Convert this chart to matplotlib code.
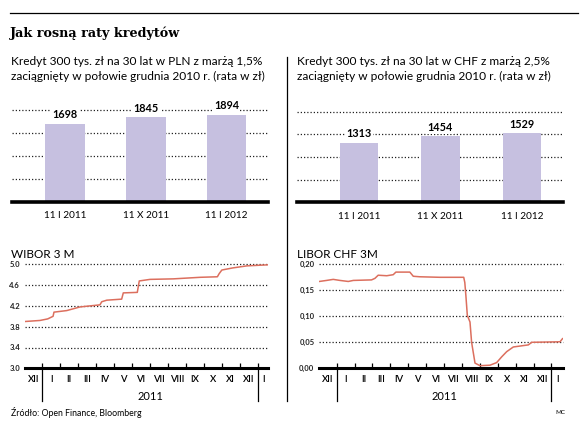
import matplotlib
matplotlib.use("Agg")
import matplotlib.pyplot as plt
import matplotlib.transforms as mtrans
import numpy as np

# --- data -------------------------------------------------------------------
title = "Jak rosną raty kredytów"
pln_title = ("Kredyt 300 tys. zł na 30 lat w PLN z marżą 1,5%\n"
             "zaciągnięty w połowie grudnia 2010 r. (rata w zł)")
chf_title = ("Kredyt 300 tys. zł na 30 lat w CHF z marżą 2,5%\n"
             "zaciągnięty w połowie grudnia 2010 r. (rata w zł)")
bar_labels = ["11 I 2011", "11 X 2011", "11 I 2012"]
pln_rates = [1698, 1845, 1894]
chf_rates = [1313, 1454, 1529]

month_names = ["XII", "I", "II", "III", "IV", "V", "VI", "VII", "VIII",
               "IX", "X", "XI", "XII", "I"]

# time in months, 0 = start of Dec 2010, 1 = start of Jan 2011 ...
wibor_t = [0.04, 0.87, 1.30, 1.60, 1.65, 2.36, 3.10, 4.21, 4.31, 4.59,
           5.42, 5.51, 6.29, 6.40, 7.00, 8.30, 9.80, 10.75, 10.85, 11.00,
           11.60, 12.40, 13.57]
wibor_v = [3.90, 3.92, 3.95, 4.00, 4.08, 4.11, 4.18, 4.22, 4.28, 4.31,
           4.33, 4.45, 4.46, 4.68, 4.71, 4.72, 4.75, 4.76, 4.82, 4.89,
           4.93, 4.97, 4.99]

libor_t = [0.03, 0.44, 0.81, 1.18, 1.65, 1.93, 2.95, 3.14, 3.32, 3.80,
           4.16, 4.31, 5.09, 5.28, 5.65, 6.77, 8.10, 8.16, 8.22, 8.30,
           8.45, 8.54, 8.73, 9.01, 9.57, 9.94, 10.22, 10.50, 10.87, 11.71,
           11.90, 13.48, 13.62]
libor_v = [0.167, 0.169, 0.171, 0.169, 0.167, 0.169, 0.170, 0.173, 0.179, 0.178,
           0.180, 0.185, 0.185, 0.177, 0.176, 0.175, 0.175, 0.165, 0.140, 0.102,
           0.089, 0.050, 0.010, 0.005, 0.006, 0.011, 0.022, 0.032, 0.041, 0.045,
           0.050, 0.051, 0.057]

wibor_ticks = [3.0, 3.4, 3.8, 4.2, 4.6, 5.0]
wibor_ticklabels = ["3.0", "3.4", "3.8", "4.2", "4.6", "5.0"]
libor_ticks = [0.0, 0.05, 0.10, 0.15, 0.20]
libor_ticklabels = ["0,00", "0,05", "0,10", "0,15", "0,20"]

# --- styling -----------------------------------------------------------------
plt.rcParams["font.family"] = ["Lato", "DejaVu Sans"]
bar_color = "#c6c0e0"
line_color = "#dc6f5e"
dot_style = (0, (1, 1.6))
W, H = 588, 428

fig = plt.figure(figsize=(W / 100, H / 100), dpi=100)


def px_axes(x0, y0, x1, y1):
    # pixel box (top-left origin) -> figure axes
    return fig.add_axes([x0 / W, 1 - y1 / H, (x1 - x0) / W, (y1 - y0) / H])


def fx(x):
    return x / W


def fy(y):
    return 1 - y / H


def bar_panel(box, values, xlim, width):
    ax = px_axes(*box)
    pos = np.arange(len(values))
    ax.bar(pos, values, width=width, color=bar_color, zorder=2)
    for g in [500, 1000, 1500, 2000]:
        ax.axhline(g, color="#222222", lw=0.9, ls=dot_style, zorder=1, clip_on=False)
    ax.axhline(0, color="black", lw=2.6, zorder=3, clip_on=False)
    ax.set_xlim(xlim)
    ax.set_ylim(0, 2000)
    ax.axis("off")
    for p, v in zip(pos, values):
        ax.annotate(str(v), (p, v), xytext=(0, 2.5), textcoords="offset points",
                    ha="center", va="bottom", fontsize=7.8, fontweight="bold",
                    bbox=dict(fc="white", ec="none", pad=0.8), zorder=4)
    for p, lab in zip(pos, bar_labels):
        ax.annotate(lab, (p, 0), xytext=(0, -7), textcoords="offset points",
                    ha="center", va="top", fontsize=7.2)
    return ax


def line_panel(box, t, v, ticks, ticklabels, xlim):
    ax = px_axes(*box)
    ax.plot(t, v, color=line_color, lw=1.1, zorder=3)
    for g in ticks[1:]:
        ax.axhline(g, color="#222222", lw=0.9, ls=dot_style, zorder=1, clip_on=False)
    ax.set_xlim(xlim)
    ax.set_ylim(ticks[0], ticks[-1])
    for s in ["top", "right", "left"]:
        ax.spines[s].set_visible(False)
    ax.spines["bottom"].set_linewidth(2.2)
    ax.set_yticks(ticks)
    ax.set_yticklabels(ticklabels, fontsize=5.5, fontweight="bold", color="#222222")
    ax.tick_params(axis="y", length=0, pad=3.5)
    ax.set_xticks(np.arange(1, 14))
    ax.set_xticklabels([])
    ax.tick_params(axis="x", direction="in", length=3.5, width=0.9, color="black")
    tr = mtrans.blended_transform_factory(ax.transData, ax.transAxes)
    centers = list(np.arange(len(month_names)) + 0.5)
    centers[-1] = 13.32
    for c, m in zip(centers, month_names):
        ax.text(c, -0.065, m, transform=tr, ha="center", va="top", fontsize=6.8,
                fontweight="semibold")
    for d in [1, 13]:
        ax.plot([d, d], [0, -0.31], transform=tr, color="black", lw=0.9, clip_on=False)
    ax.text(7, -0.22, "2011", transform=tr, ha="center", va="top", fontsize=8)
    return ax


# header
fig.add_artist(plt.Line2D([fx(10), fx(578)], [fy(13), fy(13)], color="black", lw=0.9))
fig.text(fx(10), fy(33), title, fontsize=9.2, fontweight="bold",
         family="DejaVu Serif", va="center", ha="left")
fig.add_artist(plt.Line2D([fx(286.5), fx(286.5)], [fy(57), fy(401)], color="black", lw=0.9))

# subtitles
fig.text(fx(11), fy(56), pln_title, fontsize=8.6, va="top", ha="left", linespacing=1.4)
fig.text(fx(297), fy(56), chf_title, fontsize=8.6, va="top", ha="left", linespacing=1.4)

# bar charts
bar_panel((11.7, 110, 268.3, 201.7), pln_rates, (-0.66, 2.515), 0.49)
bar_panel((297.3, 111.7, 563.3, 202.3), chf_rates, (-0.76, 2.51), 0.47)

# rate charts
fig.text(fx(11), fy(255), "WIBOR 3 M", fontsize=8.5, va="center", ha="left")
fig.text(fx(297), fy(255), "LIBOR CHF 3M", fontsize=8.5, va="center", ha="left")
line_panel((25, 264.3, 268, 368.3), wibor_t, wibor_v, wibor_ticks, wibor_ticklabels,
           (0.036, 13.57))
line_panel((319.3, 264.3, 562.7, 368.3), libor_t, libor_v, libor_ticks, libor_ticklabels,
           (0.03, 13.63))

# footer
fig.text(fx(11), fy(413), "Źródło: Open Finance, Bloomberg", fontsize=6.3, va="center", ha="left")
fig.text(fx(560), fy(413), "MC", fontsize=4.5, va="center", ha="center")

fig.savefig("out.png", dpi=100)
